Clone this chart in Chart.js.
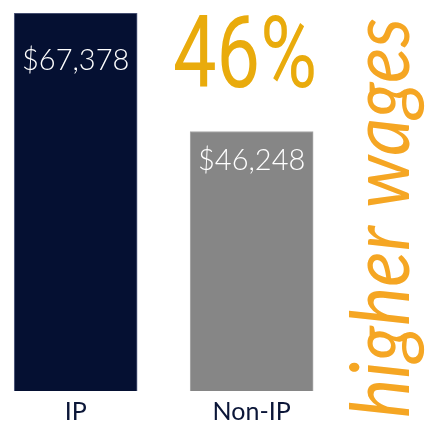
<!DOCTYPE html>
<html>
<head>
<meta charset="utf-8">
<script src="https://cdn.jsdelivr.net/npm/chart.js@4/dist/chart.umd.min.js"></script>
<style>
  html, body { margin: 0; padding: 0; background: #fff; }
  #wrap { width: 425px; height: 424px; }
</style>
</head>
<body>
<div id="wrap"><canvas id="chart" width="425" height="424"></canvas></div>
<script>
// IP vs Non-IP average wages
const categories = ['IP', 'Non-IP'];
const wages      = [67378, 46248];
const barColors  = ['#051032', '#868686'];
const headline   = '46%';
const sideNote   = 'higher wages';

const fmtMoney = v => '$' + v.toLocaleString('en-US');

// value labels inside the bars
const valueLabels = {
  id: 'valueLabels',
  afterDatasetsDraw(chart, args, opts) {
    const { ctx } = chart;
    const meta = chart.getDatasetMeta(0);
    ctx.save();
    ctx.fillStyle = '#ffffff';
    ctx.font = '300 29px Lato';
    ctx.textAlign = 'center';
    ctx.textBaseline = 'middle';
    meta.data.forEach((bar, i) => {
      ctx.fillText(fmtMoney(wages[i]), bar.x, bar.y + opts.offsets[i]);
    });
    ctx.restore();
  }
};

// big "46%" and the vertical "higher wages"
const callouts = {
  id: 'callouts',
  afterDraw(chart) {
    const { ctx } = chart;
    ctx.save();

    // headline, squeezed to look condensed
    ctx.fillStyle = '#E9AB0C';
    ctx.font = '400 100px Roboto';
    ctx.textBaseline = 'alphabetic';
    ctx.textAlign = 'left';
    let w = ctx.measureText(headline).width;
    ctx.translate(173, 87);
    ctx.scale(144 / w, 1);
    ctx.fillText(headline, 0, 0);
    ctx.restore();

    // vertical side note
    ctx.save();
    ctx.fillStyle = '#F5A623';
    ctx.font = 'italic 400 82px Lato';
    ctx.textBaseline = 'alphabetic';
    ctx.textAlign = 'left';
    w = ctx.measureText(sideNote).width;
    ctx.translate(409, 418);
    ctx.rotate(-Math.PI / 2);
    ctx.scale(400 / w, 1);
    ctx.fillText(sideNote, 0, 0);
    ctx.restore();
  }
};

new Chart(document.getElementById('chart'), {
  type: 'bar',
  data: {
    datasets: [{
      data: wages.map((v, i) => ({ x: i, y: v })),
      backgroundColor: barColors,
      borderColor: ['#5a6284', '#a9a9a9'],
      borderWidth: 1,
      barThickness: 123,
    }]
  },
  plugins: [valueLabels, callouts],
  options: {
    responsive: false,
    animation: false,
    layout: { padding: { top: 13, left: 0, right: 0, bottom: 0 } },
    plugins: {
      legend: { display: false },
      tooltip: { enabled: false },
      valueLabels: { offsets: [48, 29] },
    },
    scales: {
      x: {
        type: 'linear',
        offset: false,
        bounds: 'data',
        min: -0.43,
        max: 1.985,
        grid: { display: false, offset: false, drawTicks: false },
        border: { display: false },
        afterBuildTicks: axis => { axis.ticks = categories.map((c, i) => ({ value: i })); },
        afterFit: axis => { axis.height = 33; },
        ticks: {
          padding: 6,
          maxRotation: 0,
          minRotation: 0,
          autoSkip: false,
          color: '#0b1638',
          font: { family: 'Lato', size: 25 },
          callback: v => categories[v] ?? '',
        }
      },
      y: {
        display: false,
        min: 0,
        max: 67378,
      }
    }
  }
});
</script>
</body>
</html>
